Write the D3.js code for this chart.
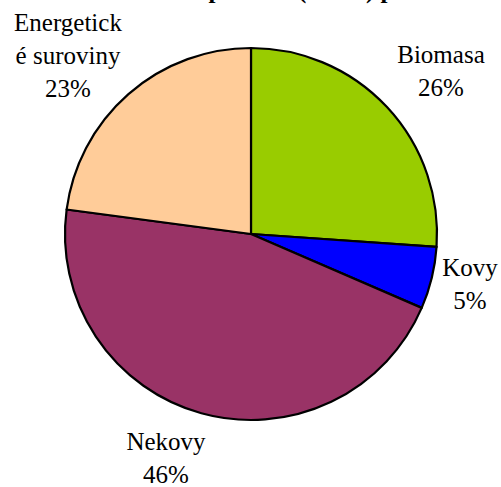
<!DOCTYPE html>
<html>
<head>
<meta charset="utf-8">
<script src="https://cdn.jsdelivr.net/npm/d3@7"></script>
<style>
  html, body { margin: 0; padding: 0; background: #fff; overflow: hidden; }
  svg { display: block; }
</style>
</head>
<body>
<svg id="chart" width="501" height="487"></svg>
<script>
const categories = ["Biomasa", "Kovy", "Nekovy", "Energetické suroviny"];
const values = [26.1, 5.4, 45.6, 22.9];
const colors = ["#99CC00", "#0000FF", "#993366", "#FFCC99"];
const labelLines = [["Biomasa"], ["Kovy"], ["Nekovy"], ["Energetick", "é suroviny"]];
const titleText = "Domácí materiálová spotřeba (DMC) podle druhu";

const svg = d3.select("#chart");
const cx = 251, cy = 234, r = 186;
const FONT = "Liberation Serif";

// title (mostly clipped above the top edge, as in the reference)
const titleEl = svg.append("text")
  .attr("y", -2)
  .style("font-family", FONT)
  .style("font-weight", "bold")
  .style("font-size", "25px")
  .text(titleText);
const pIdx = titleText.indexOf("(");
const off = titleEl.node().getSubStringLength(0, pIdx);
titleEl.attr("x", 298 - off);

const pie = d3.pie().sort(null).value(d => d)(values);
const arc = d3.arc().innerRadius(0).outerRadius(r);

const g = svg.append("g").attr("transform", `translate(${cx},${cy})`);
g.selectAll("path").data(pie).enter().append("path")
  .attr("d", arc)
  .attr("fill", (d, i) => colors[i])
  .attr("stroke", "#000")
  .attr("stroke-width", 2.2)
  .attr("stroke-linejoin", "round");

// label anchor positions (center x, first baseline y)
const labelPos = [[441, 63], [470, 276], [166, 450], [68, 31]];
const lineH = 33;
labelLines.forEach((lines, i) => {
  const all = lines.concat([Math.round(values[i]) + "%"]);
  const t = svg.append("text")
    .style("font-family", FONT)
    .style("font-size", "25px")
    .attr("fill", "#000")
    .attr("text-anchor", "middle");
  all.forEach((s, k) => {
    t.append("tspan")
      .attr("x", labelPos[i][0])
      .attr("y", labelPos[i][1] + k * lineH)
      .text(s);
  });
});
</script>
</body>
</html>
